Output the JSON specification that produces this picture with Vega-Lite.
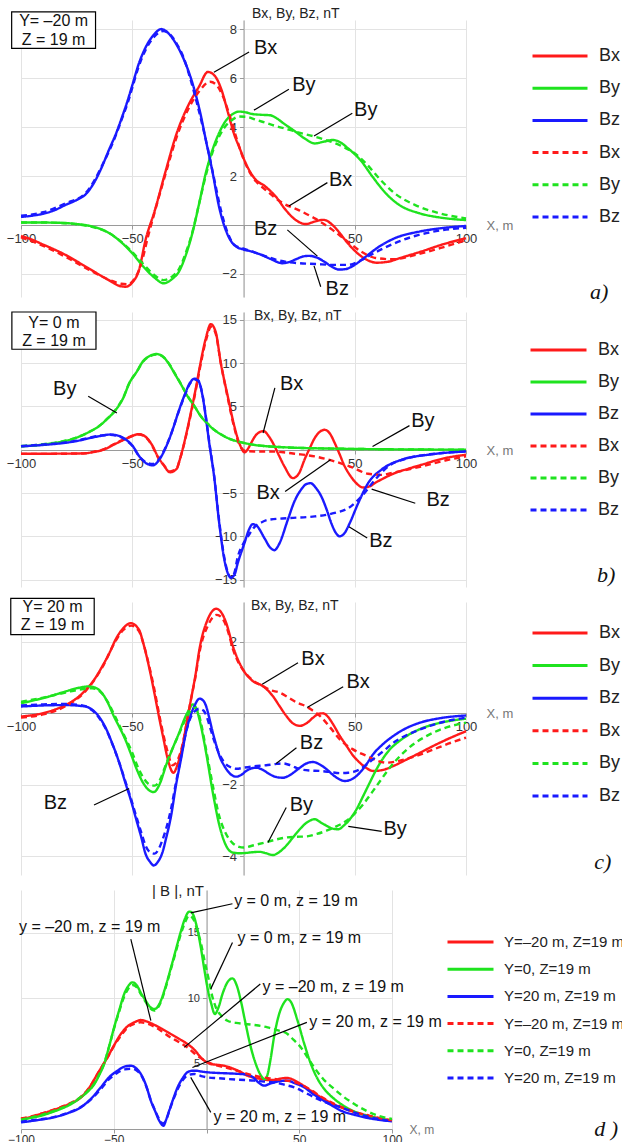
{
"$schema":"https://vega.github.io/schema/vega-lite/v6.json",
"padding":{"left":6,"top":6,"right":0,"bottom":0},
"background":"white",
"config":{"view":{"stroke":null},"font":"Liberation Sans",
 "axis":{"domainColor":"#9a9a9a","tickColor":"#9a9a9a","labelColor":"#333","labelFont":"Liberation Sans","labelFontSize":13,"gridColor":"#e3e3e3","titleFont":"Liberation Sans","titleFontWeight":"normal","titleColor":"#222","labelPadding":3,"labelOverlap":false,"labelFlush":false,"domainWidth":1,"tickSize":4}},
"datasets":{
"a":[
{"k":"Bx|s","x":-100,"y":-0.45},{"k":"Bx|s","x":-95,"y":-0.6},{"k":"Bx|s","x":-90,"y":-0.8},{"k":"Bx|s","x":-85,"y":-1.0},{"k":"Bx|s","x":-80,"y":-1.22},{"k":"Bx|s","x":-75,"y":-1.48},{"k":"Bx|s","x":-70,"y":-1.75},{"k":"Bx|s","x":-65,"y":-2.02},{"k":"Bx|s","x":-60,"y":-2.28},{"k":"Bx|s","x":-56,"y":-2.48},{"k":"Bx|s","x":-53,"y":-2.52},{"k":"Bx|s","x":-50,"y":-2.35},{"k":"Bx|s","x":-47,"y":-1.85},{"k":"Bx|s","x":-44,"y":-0.6},{"k":"Bx|s","x":-40,"y":0.55},{"k":"Bx|s","x":-35,"y":2.2},{"k":"Bx|s","x":-30,"y":3.75},{"k":"Bx|s","x":-25,"y":4.85},{"k":"Bx|s","x":-20,"y":5.65},{"k":"Bx|s","x":-16,"y":6.25},{"k":"Bx|s","x":-13,"y":6.1},{"k":"Bx|s","x":-10,"y":5.55},{"k":"Bx|s","x":-7,"y":4.6},{"k":"Bx|s","x":-4,"y":3.65},{"k":"Bx|s","x":-2,"y":3.2},{"k":"Bx|s","x":1,"y":2.52},{"k":"Bx|s","x":5,"y":1.9},{"k":"Bx|s","x":10,"y":1.56},{"k":"Bx|s","x":14.5,"y":1.16},{"k":"Bx|s","x":19,"y":0.61},{"k":"Bx|s","x":23.5,"y":0.2},{"k":"Bx|s","x":28,"y":0.04},{"k":"Bx|s","x":32,"y":0.14},{"k":"Bx|s","x":36,"y":0.21},{"k":"Bx|s","x":40,"y":0.0},{"k":"Bx|s","x":43,"y":-0.3},{"k":"Bx|s","x":46,"y":-0.65},{"k":"Bx|s","x":50,"y":-1.05},{"k":"Bx|s","x":55,"y":-1.4},{"k":"Bx|s","x":60,"y":-1.54},{"k":"Bx|s","x":65,"y":-1.5},{"k":"Bx|s","x":70,"y":-1.36},{"k":"Bx|s","x":80,"y":-1.08},{"k":"Bx|s","x":90,"y":-0.78},{"k":"Bx|s","x":100,"y":-0.54},
{"k":"By|s","x":-100,"y":0.1},{"k":"By|s","x":-90,"y":0.1},{"k":"By|s","x":-80,"y":0.08},{"k":"By|s","x":-75,"y":0.04},{"k":"By|s","x":-70,"y":-0.02},{"k":"By|s","x":-65,"y":-0.14},{"k":"By|s","x":-60,"y":-0.35},{"k":"By|s","x":-55,"y":-0.7},{"k":"By|s","x":-50,"y":-1.15},{"k":"By|s","x":-45,"y":-1.7},{"k":"By|s","x":-40,"y":-2.15},{"k":"By|s","x":-36,"y":-2.38},{"k":"By|s","x":-32,"y":-2.2},{"k":"By|s","x":-29,"y":-1.9},{"k":"By|s","x":-26,"y":-1.25},{"k":"By|s","x":-23,"y":-0.34},{"k":"By|s","x":-20,"y":0.85},{"k":"By|s","x":-17,"y":2.1},{"k":"By|s","x":-14,"y":3.05},{"k":"By|s","x":-11,"y":3.75},{"k":"By|s","x":-8,"y":4.25},{"k":"By|s","x":-5,"y":4.52},{"k":"By|s","x":-2,"y":4.63},{"k":"By|s","x":1,"y":4.6},{"k":"By|s","x":4,"y":4.53},{"k":"By|s","x":8,"y":4.5},{"k":"By|s","x":12,"y":4.48},{"k":"By|s","x":15,"y":4.35},{"k":"By|s","x":18,"y":4.15},{"k":"By|s","x":23.5,"y":3.8},{"k":"By|s","x":28,"y":3.5},{"k":"By|s","x":32,"y":3.33},{"k":"By|s","x":36,"y":3.4},{"k":"By|s","x":40,"y":3.47},{"k":"By|s","x":43,"y":3.4},{"k":"By|s","x":47,"y":3.13},{"k":"By|s","x":53,"y":2.6},{"k":"By|s","x":58,"y":1.97},{"k":"By|s","x":64,"y":1.29},{"k":"By|s","x":70,"y":0.82},{"k":"By|s","x":79,"y":0.48},{"k":"By|s","x":88,"y":0.31},{"k":"By|s","x":100,"y":0.2},
{"k":"Bz|s","x":-100,"y":0.33},{"k":"Bz|s","x":-95,"y":0.38},{"k":"Bz|s","x":-90,"y":0.46},{"k":"Bz|s","x":-85,"y":0.6},{"k":"Bz|s","x":-80,"y":0.82},{"k":"Bz|s","x":-75,"y":1.02},{"k":"Bz|s","x":-71,"y":1.25},{"k":"Bz|s","x":-67,"y":1.75},{"k":"Bz|s","x":-64,"y":2.3},{"k":"Bz|s","x":-60.5,"y":3.06},{"k":"Bz|s","x":-57,"y":3.8},{"k":"Bz|s","x":-55,"y":4.3},{"k":"Bz|s","x":-52,"y":5.1},{"k":"Bz|s","x":-50,"y":5.7},{"k":"Bz|s","x":-47,"y":6.6},{"k":"Bz|s","x":-44,"y":7.25},{"k":"Bz|s","x":-40,"y":7.8},{"k":"Bz|s","x":-37,"y":8.0},{"k":"Bz|s","x":-34,"y":7.85},{"k":"Bz|s","x":-31,"y":7.5},{"k":"Bz|s","x":-28,"y":7.0},{"k":"Bz|s","x":-25,"y":6.35},{"k":"Bz|s","x":-22,"y":5.5},{"k":"Bz|s","x":-19,"y":4.4},{"k":"Bz|s","x":-17,"y":3.5},{"k":"Bz|s","x":-14,"y":2.2},{"k":"Bz|s","x":-11,"y":0.75},{"k":"Bz|s","x":-8,"y":-0.2},{"k":"Bz|s","x":-6,"y":-0.6},{"k":"Bz|s","x":-3,"y":-0.9},{"k":"Bz|s","x":0,"y":-1.0},{"k":"Bz|s","x":4,"y":-1.09},{"k":"Bz|s","x":8,"y":-1.22},{"k":"Bz|s","x":12,"y":-1.38},{"k":"Bz|s","x":17.5,"y":-1.56},{"k":"Bz|s","x":21,"y":-1.5},{"k":"Bz|s","x":24,"y":-1.38},{"k":"Bz|s","x":27,"y":-1.28},{"k":"Bz|s","x":29.5,"y":-1.26},{"k":"Bz|s","x":33,"y":-1.33},{"k":"Bz|s","x":36,"y":-1.48},{"k":"Bz|s","x":40,"y":-1.72},{"k":"Bz|s","x":43,"y":-1.82},{"k":"Bz|s","x":46,"y":-1.8},{"k":"Bz|s","x":49,"y":-1.68},{"k":"Bz|s","x":52,"y":-1.5},{"k":"Bz|s","x":55,"y":-1.29},{"k":"Bz|s","x":61,"y":-0.88},{"k":"Bz|s","x":68,"y":-0.54},{"k":"Bz|s","x":79,"y":-0.27},{"k":"Bz|s","x":88,"y":-0.14},{"k":"Bz|s","x":100,"y":-0.04},
{"k":"Bx|d","x":-100,"y":-0.5},{"k":"Bx|d","x":-90,"y":-0.85},{"k":"Bx|d","x":-80,"y":-1.3},{"k":"Bx|d","x":-70,"y":-1.8},{"k":"Bx|d","x":-60,"y":-2.25},{"k":"Bx|d","x":-55,"y":-2.4},{"k":"Bx|d","x":-52,"y":-2.42},{"k":"Bx|d","x":-49,"y":-2.2},{"k":"Bx|d","x":-46,"y":-1.6},{"k":"Bx|d","x":-43,"y":-0.5},{"k":"Bx|d","x":-40,"y":0.5},{"k":"Bx|d","x":-35,"y":2.1},{"k":"Bx|d","x":-30,"y":3.6},{"k":"Bx|d","x":-25,"y":4.7},{"k":"Bx|d","x":-20,"y":5.45},{"k":"Bx|d","x":-15,"y":5.85},{"k":"Bx|d","x":-12,"y":5.7},{"k":"Bx|d","x":-9,"y":5.2},{"k":"Bx|d","x":-6,"y":4.4},{"k":"Bx|d","x":-3,"y":3.5},{"k":"Bx|d","x":0,"y":2.7},{"k":"Bx|d","x":2.5,"y":2.2},{"k":"Bx|d","x":5,"y":1.85},{"k":"Bx|d","x":10,"y":1.43},{"k":"Bx|d","x":17.5,"y":0.9},{"k":"Bx|d","x":25,"y":0.6},{"k":"Bx|d","x":32,"y":0.27},{"k":"Bx|d","x":40,"y":-0.2},{"k":"Bx|d","x":46,"y":-0.62},{"k":"Bx|d","x":53,"y":-1.09},{"k":"Bx|d","x":59,"y":-1.34},{"k":"Bx|d","x":67,"y":-1.4},{"k":"Bx|d","x":79,"y":-1.18},{"k":"Bx|d","x":90,"y":-0.9},{"k":"Bx|d","x":100,"y":-0.62},
{"k":"By|d","x":-100,"y":0.1},{"k":"By|d","x":-90,"y":0.1},{"k":"By|d","x":-80,"y":0.07},{"k":"By|d","x":-70,"y":-0.04},{"k":"By|d","x":-60,"y":-0.35},{"k":"By|d","x":-55,"y":-0.68},{"k":"By|d","x":-50,"y":-1.1},{"k":"By|d","x":-45,"y":-1.6},{"k":"By|d","x":-40,"y":-2.05},{"k":"By|d","x":-36,"y":-2.25},{"k":"By|d","x":-32,"y":-2.1},{"k":"By|d","x":-29,"y":-1.8},{"k":"By|d","x":-26,"y":-1.15},{"k":"By|d","x":-23,"y":-0.3},{"k":"By|d","x":-20,"y":0.85},{"k":"By|d","x":-17,"y":2.0},{"k":"By|d","x":-14,"y":2.95},{"k":"By|d","x":-11,"y":3.6},{"k":"By|d","x":-8,"y":4.05},{"k":"By|d","x":-5,"y":4.3},{"k":"By|d","x":-2,"y":4.43},{"k":"By|d","x":1,"y":4.42},{"k":"By|d","x":5.5,"y":4.3},{"k":"By|d","x":10,"y":4.17},{"k":"By|d","x":14.5,"y":4.04},{"k":"By|d","x":19,"y":3.93},{"k":"By|d","x":23.5,"y":3.81},{"k":"By|d","x":28,"y":3.7},{"k":"By|d","x":32.4,"y":3.6},{"k":"By|d","x":37,"y":3.47},{"k":"By|d","x":41.4,"y":3.33},{"k":"By|d","x":45,"y":3.18},{"k":"By|d","x":49,"y":2.99},{"k":"By|d","x":55,"y":2.52},{"k":"By|d","x":61,"y":1.9},{"k":"By|d","x":68,"y":1.29},{"k":"By|d","x":77,"y":0.82},{"k":"By|d","x":88,"y":0.48},{"k":"By|d","x":100,"y":0.27},
{"k":"Bz|d","x":-100,"y":0.38},{"k":"Bz|d","x":-90,"y":0.52},{"k":"Bz|d","x":-80,"y":0.88},{"k":"Bz|d","x":-71,"y":1.3},{"k":"Bz|d","x":-67,"y":1.82},{"k":"Bz|d","x":-64,"y":2.35},{"k":"Bz|d","x":-60.5,"y":3.0},{"k":"Bz|d","x":-57,"y":3.75},{"k":"Bz|d","x":-55,"y":4.25},{"k":"Bz|d","x":-52,"y":5.0},{"k":"Bz|d","x":-50,"y":5.6},{"k":"Bz|d","x":-47,"y":6.5},{"k":"Bz|d","x":-44,"y":7.15},{"k":"Bz|d","x":-40,"y":7.7},{"k":"Bz|d","x":-36,"y":7.92},{"k":"Bz|d","x":-33,"y":7.78},{"k":"Bz|d","x":-30,"y":7.4},{"k":"Bz|d","x":-27,"y":6.85},{"k":"Bz|d","x":-24,"y":6.0},{"k":"Bz|d","x":-21,"y":5.0},{"k":"Bz|d","x":-18,"y":3.9},{"k":"Bz|d","x":-16,"y":3.1},{"k":"Bz|d","x":-13,"y":1.8},{"k":"Bz|d","x":-10,"y":0.55},{"k":"Bz|d","x":-7,"y":-0.35},{"k":"Bz|d","x":-4,"y":-0.82},{"k":"Bz|d","x":0,"y":-0.96},{"k":"Bz|d","x":7,"y":-1.18},{"k":"Bz|d","x":16,"y":-1.45},{"k":"Bz|d","x":25,"y":-1.56},{"k":"Bz|d","x":32.4,"y":-1.59},{"k":"Bz|d","x":40,"y":-1.63},{"k":"Bz|d","x":47,"y":-1.63},{"k":"Bz|d","x":53,"y":-1.43},{"k":"Bz|d","x":59,"y":-1.13},{"k":"Bz|d","x":67,"y":-0.78},{"k":"Bz|d","x":77,"y":-0.45},{"k":"Bz|d","x":88,"y":-0.23},{"k":"Bz|d","x":100,"y":-0.11}
],
"b":[
{"k":"Bx|s","x":-100,"y":-0.46},{"k":"Bx|s","x":-90,"y":-0.46},{"k":"Bx|s","x":-80,"y":-0.45},{"k":"Bx|s","x":-72,"y":-0.42},{"k":"Bx|s","x":-67,"y":-0.25},{"k":"Bx|s","x":-63,"y":0.0},{"k":"Bx|s","x":-57.4,"y":0.7},{"k":"Bx|s","x":-52,"y":1.35},{"k":"Bx|s","x":-47,"y":1.8},{"k":"Bx|s","x":-44,"y":1.5},{"k":"Bx|s","x":-41,"y":0.5},{"k":"Bx|s","x":-38.5,"y":-0.8},{"k":"Bx|s","x":-36,"y":-1.75},{"k":"Bx|s","x":-33,"y":-2.6},{"k":"Bx|s","x":-30,"y":-2.2},{"k":"Bx|s","x":-28.7,"y":-1.2},{"k":"Bx|s","x":-26,"y":1.5},{"k":"Bx|s","x":-24,"y":3.86},{"k":"Bx|s","x":-21.5,"y":7.0},{"k":"Bx|s","x":-19.6,"y":9.65},{"k":"Bx|s","x":-17,"y":12.8},{"k":"Bx|s","x":-14.7,"y":14.5},{"k":"Bx|s","x":-12.5,"y":13.6},{"k":"Bx|s","x":-10.2,"y":10.0},{"k":"Bx|s","x":-7.1,"y":6.2},{"k":"Bx|s","x":-4.1,"y":2.7},{"k":"Bx|s","x":-1.5,"y":0.5},{"k":"Bx|s","x":0.5,"y":-0.3},{"k":"Bx|s","x":2,"y":0.1},{"k":"Bx|s","x":3.4,"y":0.77},{"k":"Bx|s","x":6,"y":1.8},{"k":"Bx|s","x":9,"y":2.15},{"k":"Bx|s","x":11.5,"y":1.5},{"k":"Bx|s","x":14,"y":0.39},{"k":"Bx|s","x":16,"y":-0.7},{"k":"Bx|s","x":18.4,"y":-1.93},{"k":"Bx|s","x":22.2,"y":-3.28},{"k":"Bx|s","x":25,"y":-2.7},{"k":"Bx|s","x":27.4,"y":-1.16},{"k":"Bx|s","x":30,"y":0.3},{"k":"Bx|s","x":32,"y":1.35},{"k":"Bx|s","x":36.5,"y":2.3},{"k":"Bx|s","x":39,"y":1.8},{"k":"Bx|s","x":41,"y":0.77},{"k":"Bx|s","x":43,"y":-0.4},{"k":"Bx|s","x":45.5,"y":-1.93},{"k":"Bx|s","x":48,"y":-3.0},{"k":"Bx|s","x":50,"y":-3.67},{"k":"Bx|s","x":53.8,"y":-4.36},{"k":"Bx|s","x":57,"y":-4.2},{"k":"Bx|s","x":59,"y":-3.86},{"k":"Bx|s","x":63,"y":-3.3},{"k":"Bx|s","x":68,"y":-2.7},{"k":"Bx|s","x":74,"y":-2.2},{"k":"Bx|s","x":80,"y":-1.74},{"k":"Bx|s","x":90,"y":-1.0},{"k":"Bx|s","x":100,"y":-0.58},
{"k":"By|s","x":-100,"y":0.39},{"k":"By|s","x":-90,"y":0.6},{"k":"By|s","x":-81,"y":0.97},{"k":"By|s","x":-75,"y":1.4},{"k":"By|s","x":-69,"y":2.1},{"k":"By|s","x":-65,"y":2.7},{"k":"By|s","x":-61.6,"y":3.47},{"k":"By|s","x":-57.4,"y":4.6},{"k":"By|s","x":-54,"y":6.0},{"k":"By|s","x":-51.3,"y":7.7},{"k":"By|s","x":-48,"y":9.0},{"k":"By|s","x":-45.2,"y":10.2},{"k":"By|s","x":-42,"y":10.85},{"k":"By|s","x":-39,"y":11.05},{"k":"By|s","x":-36,"y":10.7},{"k":"By|s","x":-33,"y":9.7},{"k":"By|s","x":-31.2,"y":8.9},{"k":"By|s","x":-28,"y":7.5},{"k":"By|s","x":-25.2,"y":6.2},{"k":"By|s","x":-22,"y":5.0},{"k":"By|s","x":-19.2,"y":3.86},{"k":"By|s","x":-16,"y":2.95},{"k":"By|s","x":-13.2,"y":2.3},{"k":"By|s","x":-10,"y":1.75},{"k":"By|s","x":-7.1,"y":1.35},{"k":"By|s","x":-3,"y":0.98},{"k":"By|s","x":0.4,"y":0.77},{"k":"By|s","x":5,"y":0.55},{"k":"By|s","x":10.9,"y":0.39},{"k":"By|s","x":17,"y":0.3},{"k":"By|s","x":23,"y":0.23},{"k":"By|s","x":35,"y":0.15},{"k":"By|s","x":53,"y":0.08},{"k":"By|s","x":75,"y":0.03},{"k":"By|s","x":100,"y":0.0},
{"k":"Bz|s","x":-100,"y":0.39},{"k":"Bz|s","x":-90,"y":0.55},{"k":"Bz|s","x":-81,"y":0.77},{"k":"Bz|s","x":-75,"y":1.0},{"k":"Bz|s","x":-69,"y":1.35},{"k":"Bz|s","x":-64,"y":1.6},{"k":"Bz|s","x":-60,"y":1.75},{"k":"Bz|s","x":-56,"y":1.6},{"k":"Bz|s","x":-52.8,"y":1.16},{"k":"Bz|s","x":-50,"y":0.5},{"k":"Bz|s","x":-46.8,"y":-0.77},{"k":"Bz|s","x":-43.5,"y":-1.6},{"k":"Bz|s","x":-40.7,"y":-1.8},{"k":"Bz|s","x":-38,"y":-1.2},{"k":"Bz|s","x":-34.7,"y":0.39},{"k":"Bz|s","x":-32,"y":2.2},{"k":"Bz|s","x":-29.4,"y":4.25},{"k":"Bz|s","x":-26.5,"y":6.3},{"k":"Bz|s","x":-24.1,"y":7.7},{"k":"Bz|s","x":-22,"y":8.2},{"k":"Bz|s","x":-20.5,"y":8.05},{"k":"Bz|s","x":-18.4,"y":6.2},{"k":"Bz|s","x":-16.8,"y":3.5},{"k":"Bz|s","x":-15.4,"y":0.77},{"k":"Bz|s","x":-13.2,"y":-3.1},{"k":"Bz|s","x":-10.9,"y":-8.5},{"k":"Bz|s","x":-8.6,"y":-12.7},{"k":"Bz|s","x":-7,"y":-14.3},{"k":"Bz|s","x":-5.6,"y":-14.75},{"k":"Bz|s","x":-4,"y":-14.4},{"k":"Bz|s","x":-2.6,"y":-13.1},{"k":"Bz|s","x":0.4,"y":-10.8},{"k":"Bz|s","x":2.5,"y":-9.2},{"k":"Bz|s","x":4.1,"y":-8.6},{"k":"Bz|s","x":6,"y":-8.8},{"k":"Bz|s","x":9.4,"y":-10.2},{"k":"Bz|s","x":12,"y":-11.3},{"k":"Bz|s","x":13.9,"y":-11.6},{"k":"Bz|s","x":16,"y":-10.9},{"k":"Bz|s","x":19.9,"y":-8.1},{"k":"Bz|s","x":23,"y":-5.9},{"k":"Bz|s","x":25.9,"y":-4.6},{"k":"Bz|s","x":28,"y":-4.0},{"k":"Bz|s","x":30.1,"y":-3.86},{"k":"Bz|s","x":32.5,"y":-4.4},{"k":"Bz|s","x":35,"y":-5.4},{"k":"Bz|s","x":37.5,"y":-7.0},{"k":"Bz|s","x":39.5,"y":-8.5},{"k":"Bz|s","x":41.5,"y":-9.6},{"k":"Bz|s","x":43.2,"y":-10.0},{"k":"Bz|s","x":45.5,"y":-9.6},{"k":"Bz|s","x":47.7,"y":-8.5},{"k":"Bz|s","x":51.5,"y":-6.2},{"k":"Bz|s","x":56,"y":-3.86},{"k":"Bz|s","x":62,"y":-2.3},{"k":"Bz|s","x":71,"y":-1.16},{"k":"Bz|s","x":83,"y":-0.58},{"k":"Bz|s","x":100,"y":-0.2},
{"k":"Bx|d","x":-100,"y":-0.48},{"k":"Bx|d","x":-90,"y":-0.48},{"k":"Bx|d","x":-80,"y":-0.46},{"k":"Bx|d","x":-72,"y":-0.43},{"k":"Bx|d","x":-67,"y":-0.22},{"k":"Bx|d","x":-63,"y":0.05},{"k":"Bx|d","x":-57.4,"y":0.75},{"k":"Bx|d","x":-52,"y":1.4},{"k":"Bx|d","x":-47,"y":1.75},{"k":"Bx|d","x":-44,"y":1.45},{"k":"Bx|d","x":-41,"y":0.45},{"k":"Bx|d","x":-38.5,"y":-0.85},{"k":"Bx|d","x":-36,"y":-1.7},{"k":"Bx|d","x":-33,"y":-2.5},{"k":"Bx|d","x":-30,"y":-2.15},{"k":"Bx|d","x":-28.7,"y":-1.2},{"k":"Bx|d","x":-26,"y":1.4},{"k":"Bx|d","x":-24,"y":3.7},{"k":"Bx|d","x":-21.5,"y":6.8},{"k":"Bx|d","x":-19.6,"y":9.4},{"k":"Bx|d","x":-17,"y":12.5},{"k":"Bx|d","x":-14.5,"y":14.2},{"k":"Bx|d","x":-12.5,"y":13.4},{"k":"Bx|d","x":-10.2,"y":10.0},{"k":"Bx|d","x":-7.1,"y":6.0},{"k":"Bx|d","x":-4.1,"y":2.5},{"k":"Bx|d","x":-1.5,"y":0.4},{"k":"Bx|d","x":1,"y":-0.15},{"k":"Bx|d","x":5,"y":-0.2},{"k":"Bx|d","x":12,"y":-0.2},{"k":"Bx|d","x":18,"y":-0.3},{"k":"Bx|d","x":23,"y":-0.46},{"k":"Bx|d","x":32,"y":-0.77},{"k":"Bx|d","x":41,"y":-1.35},{"k":"Bx|d","x":48.5,"y":-2.0},{"k":"Bx|d","x":56,"y":-2.78},{"k":"Bx|d","x":62,"y":-2.9},{"k":"Bx|d","x":68,"y":-2.6},{"k":"Bx|d","x":80,"y":-1.93},{"k":"Bx|d","x":90.6,"y":-1.24},{"k":"Bx|d","x":100,"y":-0.77},
{"k":"By|d","x":-100,"y":0.42},{"k":"By|d","x":-90,"y":0.63},{"k":"By|d","x":-81,"y":1.0},{"k":"By|d","x":-75,"y":1.42},{"k":"By|d","x":-69,"y":2.1},{"k":"By|d","x":-65,"y":2.72},{"k":"By|d","x":-61.6,"y":3.5},{"k":"By|d","x":-57.4,"y":4.65},{"k":"By|d","x":-54,"y":6.05},{"k":"By|d","x":-51.3,"y":7.7},{"k":"By|d","x":-48,"y":9.0},{"k":"By|d","x":-45.2,"y":10.15},{"k":"By|d","x":-42,"y":10.8},{"k":"By|d","x":-39,"y":11.0},{"k":"By|d","x":-36,"y":10.7},{"k":"By|d","x":-33,"y":9.75},{"k":"By|d","x":-31.2,"y":8.95},{"k":"By|d","x":-28,"y":7.55},{"k":"By|d","x":-25.2,"y":6.25},{"k":"By|d","x":-22,"y":5.0},{"k":"By|d","x":-19.2,"y":3.9},{"k":"By|d","x":-16,"y":3.0},{"k":"By|d","x":-13.2,"y":2.3},{"k":"By|d","x":-10,"y":1.75},{"k":"By|d","x":-7.1,"y":1.35},{"k":"By|d","x":-3,"y":0.98},{"k":"By|d","x":0.4,"y":0.77},{"k":"By|d","x":5,"y":0.55},{"k":"By|d","x":10.9,"y":0.4},{"k":"By|d","x":17,"y":0.3},{"k":"By|d","x":23,"y":0.23},{"k":"By|d","x":35,"y":0.15},{"k":"By|d","x":53,"y":0.08},{"k":"By|d","x":75,"y":0.03},{"k":"By|d","x":100,"y":0.0},
{"k":"Bz|d","x":-100,"y":0.42},{"k":"Bz|d","x":-90,"y":0.6},{"k":"Bz|d","x":-81,"y":0.82},{"k":"Bz|d","x":-75,"y":1.05},{"k":"Bz|d","x":-69,"y":1.4},{"k":"Bz|d","x":-64,"y":1.65},{"k":"Bz|d","x":-60,"y":1.72},{"k":"Bz|d","x":-56,"y":1.55},{"k":"Bz|d","x":-52.8,"y":1.1},{"k":"Bz|d","x":-50,"y":0.45},{"k":"Bz|d","x":-46.8,"y":-0.8},{"k":"Bz|d","x":-43.5,"y":-1.5},{"k":"Bz|d","x":-40.7,"y":-1.65},{"k":"Bz|d","x":-38,"y":-1.1},{"k":"Bz|d","x":-34.7,"y":0.45},{"k":"Bz|d","x":-32,"y":2.2},{"k":"Bz|d","x":-29.4,"y":4.2},{"k":"Bz|d","x":-26.5,"y":6.2},{"k":"Bz|d","x":-24.1,"y":7.6},{"k":"Bz|d","x":-22,"y":8.1},{"k":"Bz|d","x":-20.5,"y":8.0},{"k":"Bz|d","x":-18.4,"y":6.3},{"k":"Bz|d","x":-16.8,"y":3.6},{"k":"Bz|d","x":-15.4,"y":0.9},{"k":"Bz|d","x":-13.2,"y":-3.0},{"k":"Bz|d","x":-10.9,"y":-8.3},{"k":"Bz|d","x":-8.6,"y":-12.5},{"k":"Bz|d","x":-7,"y":-14.2},{"k":"Bz|d","x":-5.8,"y":-14.8},{"k":"Bz|d","x":-4.2,"y":-14.3},{"k":"Bz|d","x":-2.6,"y":-12.4},{"k":"Bz|d","x":0,"y":-10.8},{"k":"Bz|d","x":2,"y":-10.0},{"k":"Bz|d","x":5,"y":-8.9},{"k":"Bz|d","x":8,"y":-8.4},{"k":"Bz|d","x":11,"y":-8.1},{"k":"Bz|d","x":20,"y":-7.9},{"k":"Bz|d","x":32,"y":-7.7},{"k":"Bz|d","x":41,"y":-7.3},{"k":"Bz|d","x":47,"y":-6.76},{"k":"Bz|d","x":53,"y":-5.4},{"k":"Bz|d","x":59,"y":-3.5},{"k":"Bz|d","x":65,"y":-1.93},{"k":"Bz|d","x":74,"y":-0.97},{"k":"Bz|d","x":86,"y":-0.46},{"k":"Bz|d","x":100,"y":-0.2}
],
"c":[
{"k":"Bx|s","x":-100,"y":-0.09},{"k":"Bx|s","x":-90.4,"y":0.0},{"k":"Bx|s","x":-85,"y":0.1},{"k":"Bx|s","x":-80,"y":0.23},{"k":"Bx|s","x":-75,"y":0.42},{"k":"Bx|s","x":-71,"y":0.65},{"k":"Bx|s","x":-67,"y":0.95},{"k":"Bx|s","x":-63.5,"y":1.31},{"k":"Bx|s","x":-60,"y":1.72},{"k":"Bx|s","x":-57.5,"y":2.06},{"k":"Bx|s","x":-54,"y":2.38},{"k":"Bx|s","x":-50.7,"y":2.52},{"k":"Bx|s","x":-47,"y":2.34},{"k":"Bx|s","x":-45,"y":1.95},{"k":"Bx|s","x":-42.5,"y":1.31},{"k":"Bx|s","x":-40,"y":0.55},{"k":"Bx|s","x":-38,"y":-0.09},{"k":"Bx|s","x":-36,"y":-0.7},{"k":"Bx|s","x":-34.3,"y":-1.21},{"k":"Bx|s","x":-31.5,"y":-1.66},{"k":"Bx|s","x":-29.5,"y":-1.4},{"k":"Bx|s","x":-27.4,"y":-0.91},{"k":"Bx|s","x":-25.5,"y":-0.25},{"k":"Bx|s","x":-23.6,"y":0.39},{"k":"Bx|s","x":-21.5,"y":1.1},{"k":"Bx|s","x":-19.8,"y":1.79},{"k":"Bx|s","x":-16.1,"y":2.62},{"k":"Bx|s","x":-12.3,"y":2.92},{"k":"Bx|s","x":-10,"y":2.82},{"k":"Bx|s","x":-7.8,"y":2.53},{"k":"Bx|s","x":-4.8,"y":1.88},{"k":"Bx|s","x":-2.5,"y":1.5},{"k":"Bx|s","x":-0.3,"y":1.23},{"k":"Bx|s","x":4.2,"y":0.9},{"k":"Bx|s","x":8.7,"y":0.76},{"k":"Bx|s","x":13.2,"y":0.48},{"k":"Bx|s","x":16,"y":0.22},{"k":"Bx|s","x":19.2,"y":-0.07},{"k":"Bx|s","x":22,"y":-0.27},{"k":"Bx|s","x":25.3,"y":-0.35},{"k":"Bx|s","x":28.5,"y":-0.27},{"k":"Bx|s","x":31.3,"y":-0.12},{"k":"Bx|s","x":34,"y":-0.01},{"k":"Bx|s","x":35.8,"y":0.0},{"k":"Bx|s","x":38,"y":-0.1},{"k":"Bx|s","x":40.3,"y":-0.31},{"k":"Bx|s","x":43,"y":-0.6},{"k":"Bx|s","x":46.3,"y":-0.91},{"k":"Bx|s","x":49.5,"y":-1.2},{"k":"Bx|s","x":52.3,"y":-1.38},{"k":"Bx|s","x":55,"y":-1.52},{"k":"Bx|s","x":58.3,"y":-1.61},{"k":"Bx|s","x":62,"y":-1.59},{"k":"Bx|s","x":67.4,"y":-1.47},{"k":"Bx|s","x":73,"y":-1.3},{"k":"Bx|s","x":79.4,"y":-1.1},{"k":"Bx|s","x":85,"y":-0.92},{"k":"Bx|s","x":91.4,"y":-0.73},{"k":"Bx|s","x":100,"y":-0.5},
{"k":"By|s","x":-100,"y":0.28},{"k":"By|s","x":-93,"y":0.38},{"k":"By|s","x":-87.4,"y":0.47},{"k":"By|s","x":-80,"y":0.61},{"k":"By|s","x":-75,"y":0.7},{"k":"By|s","x":-69.5,"y":0.75},{"k":"By|s","x":-66,"y":0.7},{"k":"By|s","x":-63.5,"y":0.56},{"k":"By|s","x":-61,"y":0.3},{"k":"By|s","x":-58.2,"y":-0.09},{"k":"By|s","x":-55.5,"y":-0.42},{"k":"By|s","x":-53,"y":-0.75},{"k":"By|s","x":-50.5,"y":-1.15},{"k":"By|s","x":-47.8,"y":-1.59},{"k":"By|s","x":-45.5,"y":-1.9},{"k":"By|s","x":-43.3,"y":-2.1},{"k":"By|s","x":-40.3,"y":-2.2},{"k":"By|s","x":-37.5,"y":-1.95},{"k":"By|s","x":-34.9,"y":-1.47},{"k":"By|s","x":-32,"y":-1.0},{"k":"By|s","x":-28.9,"y":-0.54},{"k":"By|s","x":-26.5,"y":-0.15},{"k":"By|s","x":-24.4,"y":0.11},{"k":"By|s","x":-22.9,"y":0.25},{"k":"By|s","x":-21.3,"y":0.15},{"k":"By|s","x":-19.8,"y":-0.17},{"k":"By|s","x":-18.3,"y":-0.6},{"k":"By|s","x":-16.8,"y":-1.1},{"k":"By|s","x":-13.8,"y":-2.21},{"k":"By|s","x":-10.8,"y":-3.14},{"k":"By|s","x":-7.8,"y":-3.7},{"k":"By|s","x":-4.8,"y":-3.89},{"k":"By|s","x":-1.8,"y":-3.91},{"k":"By|s","x":1.2,"y":-3.9},{"k":"By|s","x":4.2,"y":-3.88},{"k":"By|s","x":7.2,"y":-3.87},{"k":"By|s","x":10.2,"y":-3.91},{"k":"By|s","x":13.2,"y":-3.96},{"k":"By|s","x":16.2,"y":-3.87},{"k":"By|s","x":19.2,"y":-3.7},{"k":"By|s","x":22.2,"y":-3.47},{"k":"By|s","x":25.3,"y":-3.24},{"k":"By|s","x":28.5,"y":-3.05},{"k":"By|s","x":32,"y":-2.96},{"k":"By|s","x":35,"y":-3.06},{"k":"By|s","x":37.3,"y":-3.14},{"k":"By|s","x":40,"y":-3.22},{"k":"By|s","x":42.6,"y":-3.24},{"k":"By|s","x":45,"y":-3.14},{"k":"By|s","x":47.8,"y":-2.96},{"k":"By|s","x":50.8,"y":-2.68},{"k":"By|s","x":53.8,"y":-2.31},{"k":"By|s","x":56.8,"y":-1.93},{"k":"By|s","x":59.8,"y":-1.56},{"k":"By|s","x":62.8,"y":-1.25},{"k":"By|s","x":65.9,"y":-1.0},{"k":"By|s","x":69.5,"y":-0.8},{"k":"By|s","x":73.4,"y":-0.63},{"k":"By|s","x":79,"y":-0.45},{"k":"By|s","x":85.4,"y":-0.31},{"k":"By|s","x":92,"y":-0.22},{"k":"By|s","x":100,"y":-0.15},
{"k":"Bz|s","x":-100,"y":0.19},{"k":"Bz|s","x":-90,"y":0.22},{"k":"Bz|s","x":-80,"y":0.23},{"k":"Bz|s","x":-71,"y":0.19},{"k":"Bz|s","x":-68,"y":0.1},{"k":"Bz|s","x":-65,"y":-0.09},{"k":"Bz|s","x":-62,"y":-0.4},{"k":"Bz|s","x":-59,"y":-0.84},{"k":"Bz|s","x":-56,"y":-1.35},{"k":"Bz|s","x":-53,"y":-1.96},{"k":"Bz|s","x":-50.5,"y":-2.45},{"k":"Bz|s","x":-48.5,"y":-2.9},{"k":"Bz|s","x":-46,"y":-3.45},{"k":"Bz|s","x":-44,"y":-3.93},{"k":"Bz|s","x":-42,"y":-4.15},{"k":"Bz|s","x":-40.3,"y":-4.25},{"k":"Bz|s","x":-38.5,"y":-4.15},{"k":"Bz|s","x":-36.5,"y":-3.9},{"k":"Bz|s","x":-34.9,"y":-3.52},{"k":"Bz|s","x":-32.5,"y":-2.85},{"k":"Bz|s","x":-30.4,"y":-2.03},{"k":"Bz|s","x":-28,"y":-1.25},{"k":"Bz|s","x":-25.9,"y":-0.54},{"k":"Bz|s","x":-24,"y":-0.1},{"k":"Bz|s","x":-22.1,"y":0.2},{"k":"Bz|s","x":-19.8,"y":0.41},{"k":"Bz|s","x":-18,"y":0.35},{"k":"Bz|s","x":-16.8,"y":0.2},{"k":"Bz|s","x":-15.3,"y":-0.15},{"k":"Bz|s","x":-13.8,"y":-0.54},{"k":"Bz|s","x":-12.3,"y":-0.88},{"k":"Bz|s","x":-10.8,"y":-1.19},{"k":"Bz|s","x":-8.5,"y":-1.48},{"k":"Bz|s","x":-6.3,"y":-1.67},{"k":"Bz|s","x":-3.3,"y":-1.77},{"k":"Bz|s","x":-1,"y":-1.72},{"k":"Bz|s","x":1.2,"y":-1.61},{"k":"Bz|s","x":3.5,"y":-1.54},{"k":"Bz|s","x":5.7,"y":-1.52},{"k":"Bz|s","x":8.7,"y":-1.58},{"k":"Bz|s","x":11.7,"y":-1.7},{"k":"Bz|s","x":14.7,"y":-1.78},{"k":"Bz|s","x":17.7,"y":-1.8},{"k":"Bz|s","x":21,"y":-1.72},{"k":"Bz|s","x":25.3,"y":-1.52},{"k":"Bz|s","x":28.3,"y":-1.4},{"k":"Bz|s","x":31.3,"y":-1.36},{"k":"Bz|s","x":34.3,"y":-1.43},{"k":"Bz|s","x":37.3,"y":-1.56},{"k":"Bz|s","x":41,"y":-1.76},{"k":"Bz|s","x":45.6,"y":-1.89},{"k":"Bz|s","x":49,"y":-1.83},{"k":"Bz|s","x":52.3,"y":-1.66},{"k":"Bz|s","x":55.3,"y":-1.42},{"k":"Bz|s","x":58.3,"y":-1.14},{"k":"Bz|s","x":62,"y":-0.9},{"k":"Bz|s","x":67.4,"y":-0.63},{"k":"Bz|s","x":73,"y":-0.42},{"k":"Bz|s","x":79.4,"y":-0.26},{"k":"Bz|s","x":88,"y":-0.14},{"k":"Bz|s","x":100,"y":-0.06},
{"k":"Bx|d","x":-100,"y":-0.12},{"k":"Bx|d","x":-90,"y":-0.03},{"k":"Bx|d","x":-80,"y":0.2},{"k":"Bx|d","x":-71,"y":0.62},{"k":"Bx|d","x":-63.5,"y":1.28},{"k":"Bx|d","x":-57.5,"y":2.02},{"k":"Bx|d","x":-54,"y":2.33},{"k":"Bx|d","x":-50.5,"y":2.45},{"k":"Bx|d","x":-47,"y":2.3},{"k":"Bx|d","x":-45,"y":1.95},{"k":"Bx|d","x":-42.5,"y":1.35},{"k":"Bx|d","x":-40,"y":0.65},{"k":"Bx|d","x":-38,"y":0.0},{"k":"Bx|d","x":-36,"y":-0.6},{"k":"Bx|d","x":-34,"y":-1.1},{"k":"Bx|d","x":-32,"y":-1.45},{"k":"Bx|d","x":-30,"y":-1.35},{"k":"Bx|d","x":-27.5,"y":-0.9},{"k":"Bx|d","x":-25.5,"y":-0.25},{"k":"Bx|d","x":-23.6,"y":0.39},{"k":"Bx|d","x":-21.5,"y":1.05},{"k":"Bx|d","x":-19.8,"y":1.7},{"k":"Bx|d","x":-16,"y":2.45},{"k":"Bx|d","x":-12,"y":2.75},{"k":"Bx|d","x":-9.5,"y":2.65},{"k":"Bx|d","x":-7,"y":2.3},{"k":"Bx|d","x":-4.8,"y":1.8},{"k":"Bx|d","x":-2.5,"y":1.45},{"k":"Bx|d","x":0,"y":1.2},{"k":"Bx|d","x":4.2,"y":0.92},{"k":"Bx|d","x":8.7,"y":0.76},{"k":"Bx|d","x":12,"y":0.65},{"k":"Bx|d","x":16.2,"y":0.58},{"k":"Bx|d","x":20,"y":0.45},{"k":"Bx|d","x":24,"y":0.3},{"k":"Bx|d","x":28.3,"y":0.19},{"k":"Bx|d","x":31,"y":0.08},{"k":"Bx|d","x":34.3,"y":-0.07},{"k":"Bx|d","x":39,"y":-0.4},{"k":"Bx|d","x":43.3,"y":-0.73},{"k":"Bx|d","x":49,"y":-1.0},{"k":"Bx|d","x":55.3,"y":-1.19},{"k":"Bx|d","x":60,"y":-1.32},{"k":"Bx|d","x":64.4,"y":-1.38},{"k":"Bx|d","x":69,"y":-1.34},{"k":"Bx|d","x":73.4,"y":-1.27},{"k":"Bx|d","x":80,"y":-1.14},{"k":"Bx|d","x":85.4,"y":-1.01},{"k":"Bx|d","x":92,"y":-0.85},{"k":"Bx|d","x":100,"y":-0.68},
{"k":"By|d","x":-100,"y":0.32},{"k":"By|d","x":-90,"y":0.44},{"k":"By|d","x":-80,"y":0.58},{"k":"By|d","x":-72,"y":0.68},{"k":"By|d","x":-68,"y":0.7},{"k":"By|d","x":-64,"y":0.58},{"k":"By|d","x":-61,"y":0.32},{"k":"By|d","x":-58,"y":-0.05},{"k":"By|d","x":-53,"y":-0.7},{"k":"By|d","x":-50,"y":-1.1},{"k":"By|d","x":-47.5,"y":-1.5},{"k":"By|d","x":-45,"y":-1.8},{"k":"By|d","x":-42.5,"y":-1.98},{"k":"By|d","x":-40,"y":-2.02},{"k":"By|d","x":-37.5,"y":-1.85},{"k":"By|d","x":-35,"y":-1.45},{"k":"By|d","x":-32,"y":-1.0},{"k":"By|d","x":-29,"y":-0.58},{"k":"By|d","x":-26.5,"y":-0.22},{"k":"By|d","x":-24,"y":0.05},{"k":"By|d","x":-22,"y":0.15},{"k":"By|d","x":-20.5,"y":0.05},{"k":"By|d","x":-19,"y":-0.3},{"k":"By|d","x":-17,"y":-0.95},{"k":"By|d","x":-14,"y":-1.95},{"k":"By|d","x":-11,"y":-2.85},{"k":"By|d","x":-8,"y":-3.35},{"k":"By|d","x":-5,"y":-3.62},{"k":"By|d","x":-2,"y":-3.73},{"k":"By|d","x":0,"y":-3.75},{"k":"By|d","x":5,"y":-3.68},{"k":"By|d","x":10.2,"y":-3.6},{"k":"By|d","x":15,"y":-3.52},{"k":"By|d","x":19.2,"y":-3.47},{"k":"By|d","x":24,"y":-3.45},{"k":"By|d","x":28.3,"y":-3.44},{"k":"By|d","x":33,"y":-3.37},{"k":"By|d","x":37.3,"y":-3.28},{"k":"By|d","x":42,"y":-3.15},{"k":"By|d","x":46.3,"y":-3.0},{"k":"By|d","x":50,"y":-2.8},{"k":"By|d","x":53.8,"y":-2.54},{"k":"By|d","x":57.5,"y":-2.23},{"k":"By|d","x":61.4,"y":-1.89},{"k":"By|d","x":66,"y":-1.5},{"k":"By|d","x":70.4,"y":-1.19},{"k":"By|d","x":76,"y":-0.88},{"k":"By|d","x":82.4,"y":-0.63},{"k":"By|d","x":90,"y":-0.42},{"k":"By|d","x":100,"y":-0.26},
{"k":"Bz|d","x":-100,"y":0.22},{"k":"Bz|d","x":-90,"y":0.25},{"k":"Bz|d","x":-80,"y":0.26},{"k":"Bz|d","x":-71,"y":0.2},{"k":"Bz|d","x":-68,"y":0.08},{"k":"Bz|d","x":-65,"y":-0.12},{"k":"Bz|d","x":-62,"y":-0.42},{"k":"Bz|d","x":-59,"y":-0.85},{"k":"Bz|d","x":-56,"y":-1.35},{"k":"Bz|d","x":-53,"y":-1.92},{"k":"Bz|d","x":-50.5,"y":-2.4},{"k":"Bz|d","x":-48.5,"y":-2.82},{"k":"Bz|d","x":-46,"y":-3.32},{"k":"Bz|d","x":-44,"y":-3.7},{"k":"Bz|d","x":-42,"y":-3.88},{"k":"Bz|d","x":-40,"y":-3.92},{"k":"Bz|d","x":-38,"y":-3.78},{"k":"Bz|d","x":-36.5,"y":-3.55},{"k":"Bz|d","x":-34.9,"y":-3.25},{"k":"Bz|d","x":-32.5,"y":-2.65},{"k":"Bz|d","x":-30.4,"y":-1.95},{"k":"Bz|d","x":-28,"y":-1.2},{"k":"Bz|d","x":-25.9,"y":-0.55},{"k":"Bz|d","x":-24,"y":-0.15},{"k":"Bz|d","x":-22,"y":0.05},{"k":"Bz|d","x":-20,"y":0.13},{"k":"Bz|d","x":-18,"y":0.08},{"k":"Bz|d","x":-16.5,"y":-0.1},{"k":"Bz|d","x":-15,"y":-0.4},{"k":"Bz|d","x":-13,"y":-0.8},{"k":"Bz|d","x":-11,"y":-1.12},{"k":"Bz|d","x":-8.5,"y":-1.38},{"k":"Bz|d","x":-6,"y":-1.5},{"k":"Bz|d","x":-3,"y":-1.55},{"k":"Bz|d","x":0,"y":-1.52},{"k":"Bz|d","x":5,"y":-1.48},{"k":"Bz|d","x":10.2,"y":-1.45},{"k":"Bz|d","x":14,"y":-1.42},{"k":"Bz|d","x":17.7,"y":-1.4},{"k":"Bz|d","x":21,"y":-1.45},{"k":"Bz|d","x":25.3,"y":-1.56},{"k":"Bz|d","x":30,"y":-1.6},{"k":"Bz|d","x":34.3,"y":-1.61},{"k":"Bz|d","x":39,"y":-1.64},{"k":"Bz|d","x":43.3,"y":-1.67},{"k":"Bz|d","x":47,"y":-1.66},{"k":"Bz|d","x":50.8,"y":-1.61},{"k":"Bz|d","x":54.5,"y":-1.47},{"k":"Bz|d","x":58.3,"y":-1.28},{"k":"Bz|d","x":63,"y":-1.05},{"k":"Bz|d","x":67.4,"y":-0.82},{"k":"Bz|d","x":73,"y":-0.62},{"k":"Bz|d","x":79.4,"y":-0.45},{"k":"Bz|d","x":88,"y":-0.27},{"k":"Bz|d","x":100,"y":-0.12}
],
"d":[
{"k":"Y=–20 m, Z=19 m|s","x":-100,"y":0.76},{"k":"Y=–20 m, Z=19 m|s","x":-94,"y":0.95},{"k":"Y=–20 m, Z=19 m|s","x":-89.4,"y":1.15},{"k":"Y=–20 m, Z=19 m|s","x":-84,"y":1.38},{"k":"Y=–20 m, Z=19 m|s","x":-78.6,"y":1.65},{"k":"Y=–20 m, Z=19 m|s","x":-73,"y":1.98},{"k":"Y=–20 m, Z=19 m|s","x":-67.8,"y":2.4},{"k":"Y=–20 m, Z=19 m|s","x":-63,"y":3.2},{"k":"Y=–20 m, Z=19 m|s","x":-58.8,"y":4.2},{"k":"Y=–20 m, Z=19 m|s","x":-56,"y":4.85},{"k":"Y=–20 m, Z=19 m|s","x":-53.4,"y":5.47},{"k":"Y=–20 m, Z=19 m|s","x":-50,"y":6.35},{"k":"Y=–20 m, Z=19 m|s","x":-46.2,"y":7.25},{"k":"Y=–20 m, Z=19 m|s","x":-42.5,"y":7.85},{"k":"Y=–20 m, Z=19 m|s","x":-39,"y":8.14},{"k":"Y=–20 m, Z=19 m|s","x":-35.4,"y":8.32},{"k":"Y=–20 m, Z=19 m|s","x":-32,"y":8.2},{"k":"Y=–20 m, Z=19 m|s","x":-28.2,"y":7.96},{"k":"Y=–20 m, Z=19 m|s","x":-24,"y":7.65},{"k":"Y=–20 m, Z=19 m|s","x":-19.2,"y":7.25},{"k":"Y=–20 m, Z=19 m|s","x":-15,"y":6.9},{"k":"Y=–20 m, Z=19 m|s","x":-10.3,"y":6.49},{"k":"Y=–20 m, Z=19 m|s","x":-6.5,"y":6.05},{"k":"Y=–20 m, Z=19 m|s","x":-3.1,"y":5.47},{"k":"Y=–20 m, Z=19 m|s","x":0,"y":5.1},{"k":"Y=–20 m, Z=19 m|s","x":2.3,"y":4.96},{"k":"Y=–20 m, Z=19 m|s","x":6,"y":4.9},{"k":"Y=–20 m, Z=19 m|s","x":9.5,"y":4.83},{"k":"Y=–20 m, Z=19 m|s","x":14.9,"y":4.58},{"k":"Y=–20 m, Z=19 m|s","x":18.5,"y":4.35},{"k":"Y=–20 m, Z=19 m|s","x":22.1,"y":4.07},{"k":"Y=–20 m, Z=19 m|s","x":25.7,"y":3.92},{"k":"Y=–20 m, Z=19 m|s","x":29.3,"y":3.82},{"k":"Y=–20 m, Z=19 m|s","x":33,"y":3.74},{"k":"Y=–20 m, Z=19 m|s","x":36.5,"y":3.74},{"k":"Y=–20 m, Z=19 m|s","x":40,"y":3.85},{"k":"Y=–20 m, Z=19 m|s","x":43.7,"y":3.9},{"k":"Y=–20 m, Z=19 m|s","x":47.3,"y":3.72},{"k":"Y=–20 m, Z=19 m|s","x":50.9,"y":3.43},{"k":"Y=–20 m, Z=19 m|s","x":56,"y":2.95},{"k":"Y=–20 m, Z=19 m|s","x":61.7,"y":2.42},{"k":"Y=–20 m, Z=19 m|s","x":67,"y":2.0},{"k":"Y=–20 m, Z=19 m|s","x":72.5,"y":1.65},{"k":"Y=–20 m, Z=19 m|s","x":80,"y":1.28},{"k":"Y=–20 m, Z=19 m|s","x":86.9,"y":1.02},{"k":"Y=–20 m, Z=19 m|s","x":93,"y":0.82},{"k":"Y=–20 m, Z=19 m|s","x":100,"y":0.64},
{"k":"Y=0, Z=19 m|s","x":-100,"y":0.69},{"k":"Y=0, Z=19 m|s","x":-94.6,"y":0.85},{"k":"Y=0, Z=19 m|s","x":-89.4,"y":1.0},{"k":"Y=0, Z=19 m|s","x":-84,"y":1.25},{"k":"Y=0, Z=19 m|s","x":-78.6,"y":1.53},{"k":"Y=0, Z=19 m|s","x":-73,"y":1.9},{"k":"Y=0, Z=19 m|s","x":-67.8,"y":2.4},{"k":"Y=0, Z=19 m|s","x":-64,"y":2.85},{"k":"Y=0, Z=19 m|s","x":-60.6,"y":3.4},{"k":"Y=0, Z=19 m|s","x":-57.9,"y":4.1},{"k":"Y=0, Z=19 m|s","x":-55.2,"y":4.96},{"k":"Y=0, Z=19 m|s","x":-52.5,"y":6.3},{"k":"Y=0, Z=19 m|s","x":-49.8,"y":7.76},{"k":"Y=0, Z=19 m|s","x":-47,"y":9.1},{"k":"Y=0, Z=19 m|s","x":-44.4,"y":10.3},{"k":"Y=0, Z=19 m|s","x":-42,"y":10.95},{"k":"Y=0, Z=19 m|s","x":-39.9,"y":11.2},{"k":"Y=0, Z=19 m|s","x":-37.5,"y":10.95},{"k":"Y=0, Z=19 m|s","x":-35.4,"y":10.4},{"k":"Y=0, Z=19 m|s","x":-33,"y":9.85},{"k":"Y=0, Z=19 m|s","x":-30.9,"y":9.4},{"k":"Y=0, Z=19 m|s","x":-28.2,"y":9.16},{"k":"Y=0, Z=19 m|s","x":-26.5,"y":9.3},{"k":"Y=0, Z=19 m|s","x":-24.6,"y":9.8},{"k":"Y=0, Z=19 m|s","x":-22,"y":10.9},{"k":"Y=0, Z=19 m|s","x":-19.2,"y":12.3},{"k":"Y=0, Z=19 m|s","x":-16.5,"y":13.7},{"k":"Y=0, Z=19 m|s","x":-13.8,"y":15.1},{"k":"Y=0, Z=19 m|s","x":-11.5,"y":16.1},{"k":"Y=0, Z=19 m|s","x":-9.4,"y":16.6},{"k":"Y=0, Z=19 m|s","x":-8,"y":16.55},{"k":"Y=0, Z=19 m|s","x":-6.7,"y":16.2},{"k":"Y=0, Z=19 m|s","x":-5,"y":15.3},{"k":"Y=0, Z=19 m|s","x":-3.1,"y":13.9},{"k":"Y=0, Z=19 m|s","x":-1.3,"y":12.3},{"k":"Y=0, Z=19 m|s","x":0.5,"y":10.8},{"k":"Y=0, Z=19 m|s","x":2.5,"y":9.6},{"k":"Y=0, Z=19 m|s","x":4.5,"y":8.78},{"k":"Y=0, Z=19 m|s","x":6.5,"y":9.3},{"k":"Y=0, Z=19 m|s","x":8.6,"y":10.3},{"k":"Y=0, Z=19 m|s","x":11.5,"y":11.25},{"k":"Y=0, Z=19 m|s","x":14,"y":11.5},{"k":"Y=0, Z=19 m|s","x":16.2,"y":11.0},{"k":"Y=0, Z=19 m|s","x":18.5,"y":9.8},{"k":"Y=0, Z=19 m|s","x":21,"y":8.1},{"k":"Y=0, Z=19 m|s","x":23.9,"y":6.23},{"k":"Y=0, Z=19 m|s","x":26.5,"y":5.0},{"k":"Y=0, Z=19 m|s","x":28.5,"y":4.3},{"k":"Y=0, Z=19 m|s","x":30.3,"y":3.9},{"k":"Y=0, Z=19 m|s","x":31.5,"y":3.8},{"k":"Y=0, Z=19 m|s","x":32.8,"y":4.1},{"k":"Y=0, Z=19 m|s","x":34.5,"y":5.3},{"k":"Y=0, Z=19 m|s","x":36.5,"y":7.1},{"k":"Y=0, Z=19 m|s","x":39,"y":8.7},{"k":"Y=0, Z=19 m|s","x":41.9,"y":9.67},{"k":"Y=0, Z=19 m|s","x":43.7,"y":9.92},{"k":"Y=0, Z=19 m|s","x":45.5,"y":9.7},{"k":"Y=0, Z=19 m|s","x":49.1,"y":8.27},{"k":"Y=0, Z=19 m|s","x":52.5,"y":6.6},{"k":"Y=0, Z=19 m|s","x":56.3,"y":4.96},{"k":"Y=0, Z=19 m|s","x":60,"y":3.8},{"k":"Y=0, Z=19 m|s","x":63.5,"y":3.05},{"k":"Y=0, Z=19 m|s","x":68,"y":2.4},{"k":"Y=0, Z=19 m|s","x":72.5,"y":1.91},{"k":"Y=0, Z=19 m|s","x":78,"y":1.45},{"k":"Y=0, Z=19 m|s","x":83.3,"y":1.15},{"k":"Y=0, Z=19 m|s","x":90,"y":0.88},{"k":"Y=0, Z=19 m|s","x":100,"y":0.64},
{"k":"Y=20 m, Z=19 m|s","x":-100,"y":0.51},{"k":"Y=20 m, Z=19 m|s","x":-91,"y":0.68},{"k":"Y=20 m, Z=19 m|s","x":-82.2,"y":0.89},{"k":"Y=20 m, Z=19 m|s","x":-75,"y":1.2},{"k":"Y=20 m, Z=19 m|s","x":-67.8,"y":1.65},{"k":"Y=20 m, Z=19 m|s","x":-62,"y":2.35},{"k":"Y=20 m, Z=19 m|s","x":-57,"y":3.18},{"k":"Y=20 m, Z=19 m|s","x":-52.5,"y":3.95},{"k":"Y=20 m, Z=19 m|s","x":-48,"y":4.45},{"k":"Y=20 m, Z=19 m|s","x":-44.5,"y":4.75},{"k":"Y=20 m, Z=19 m|s","x":-40.8,"y":4.83},{"k":"Y=20 m, Z=19 m|s","x":-38,"y":4.65},{"k":"Y=20 m, Z=19 m|s","x":-35.4,"y":4.2},{"k":"Y=20 m, Z=19 m|s","x":-32.5,"y":3.3},{"k":"Y=20 m, Z=19 m|s","x":-30,"y":2.16},{"k":"Y=20 m, Z=19 m|s","x":-27.5,"y":1.3},{"k":"Y=20 m, Z=19 m|s","x":-25.5,"y":0.64},{"k":"Y=20 m, Z=19 m|s","x":-24.2,"y":0.35},{"k":"Y=20 m, Z=19 m|s","x":-23.2,"y":0.25},{"k":"Y=20 m, Z=19 m|s","x":-21.8,"y":0.7},{"k":"Y=20 m, Z=19 m|s","x":-20.1,"y":1.4},{"k":"Y=20 m, Z=19 m|s","x":-17.8,"y":2.35},{"k":"Y=20 m, Z=19 m|s","x":-15.6,"y":3.18},{"k":"Y=20 m, Z=19 m|s","x":-13,"y":3.85},{"k":"Y=20 m, Z=19 m|s","x":-10.3,"y":4.33},{"k":"Y=20 m, Z=19 m|s","x":-7.5,"y":4.45},{"k":"Y=20 m, Z=19 m|s","x":-5.8,"y":4.45},{"k":"Y=20 m, Z=19 m|s","x":-2.5,"y":4.38},{"k":"Y=20 m, Z=19 m|s","x":0.5,"y":4.33},{"k":"Y=20 m, Z=19 m|s","x":6,"y":4.28},{"k":"Y=20 m, Z=19 m|s","x":11.3,"y":4.25},{"k":"Y=20 m, Z=19 m|s","x":16,"y":4.22},{"k":"Y=20 m, Z=19 m|s","x":22.1,"y":4.15},{"k":"Y=20 m, Z=19 m|s","x":25,"y":3.95},{"k":"Y=20 m, Z=19 m|s","x":28,"y":3.55},{"k":"Y=20 m, Z=19 m|s","x":31.1,"y":3.31},{"k":"Y=20 m, Z=19 m|s","x":34,"y":3.45},{"k":"Y=20 m, Z=19 m|s","x":36.5,"y":3.56},{"k":"Y=20 m, Z=19 m|s","x":40,"y":3.66},{"k":"Y=20 m, Z=19 m|s","x":43.7,"y":3.69},{"k":"Y=20 m, Z=19 m|s","x":47.5,"y":3.5},{"k":"Y=20 m, Z=19 m|s","x":52.7,"y":3.18},{"k":"Y=20 m, Z=19 m|s","x":57,"y":2.72},{"k":"Y=20 m, Z=19 m|s","x":61.7,"y":2.29},{"k":"Y=20 m, Z=19 m|s","x":67,"y":1.85},{"k":"Y=20 m, Z=19 m|s","x":72.5,"y":1.4},{"k":"Y=20 m, Z=19 m|s","x":80,"y":1.07},{"k":"Y=20 m, Z=19 m|s","x":86.9,"y":0.84},{"k":"Y=20 m, Z=19 m|s","x":93,"y":0.7},{"k":"Y=20 m, Z=19 m|s","x":100,"y":0.59},
{"k":"Y=–20 m, Z=19 m|d","x":-100,"y":0.8},{"k":"Y=–20 m, Z=19 m|d","x":-94,"y":0.98},{"k":"Y=–20 m, Z=19 m|d","x":-89,"y":1.18},{"k":"Y=–20 m, Z=19 m|d","x":-84,"y":1.4},{"k":"Y=–20 m, Z=19 m|d","x":-78.6,"y":1.68},{"k":"Y=–20 m, Z=19 m|d","x":-73,"y":2.0},{"k":"Y=–20 m, Z=19 m|d","x":-68,"y":2.42},{"k":"Y=–20 m, Z=19 m|d","x":-63,"y":3.2},{"k":"Y=–20 m, Z=19 m|d","x":-58.8,"y":4.2},{"k":"Y=–20 m, Z=19 m|d","x":-56,"y":4.85},{"k":"Y=–20 m, Z=19 m|d","x":-53.4,"y":5.45},{"k":"Y=–20 m, Z=19 m|d","x":-50,"y":6.3},{"k":"Y=–20 m, Z=19 m|d","x":-46,"y":7.15},{"k":"Y=–20 m, Z=19 m|d","x":-42.5,"y":7.75},{"k":"Y=–20 m, Z=19 m|d","x":-39,"y":8.02},{"k":"Y=–20 m, Z=19 m|d","x":-35.4,"y":8.15},{"k":"Y=–20 m, Z=19 m|d","x":-32,"y":8.05},{"k":"Y=–20 m, Z=19 m|d","x":-28,"y":7.8},{"k":"Y=–20 m, Z=19 m|d","x":-24,"y":7.45},{"k":"Y=–20 m, Z=19 m|d","x":-20,"y":7.05},{"k":"Y=–20 m, Z=19 m|d","x":-15,"y":6.65},{"k":"Y=–20 m, Z=19 m|d","x":-10,"y":6.2},{"k":"Y=–20 m, Z=19 m|d","x":-5,"y":5.6},{"k":"Y=–20 m, Z=19 m|d","x":0,"y":5.15},{"k":"Y=–20 m, Z=19 m|d","x":5,"y":4.88},{"k":"Y=–20 m, Z=19 m|d","x":10,"y":4.7},{"k":"Y=–20 m, Z=19 m|d","x":15,"y":4.5},{"k":"Y=–20 m, Z=19 m|d","x":20,"y":4.3},{"k":"Y=–20 m, Z=19 m|d","x":25,"y":4.1},{"k":"Y=–20 m, Z=19 m|d","x":30,"y":3.95},{"k":"Y=–20 m, Z=19 m|d","x":35,"y":3.85},{"k":"Y=–20 m, Z=19 m|d","x":40,"y":3.75},{"k":"Y=–20 m, Z=19 m|d","x":45,"y":3.65},{"k":"Y=–20 m, Z=19 m|d","x":50,"y":3.45},{"k":"Y=–20 m, Z=19 m|d","x":56,"y":3.0},{"k":"Y=–20 m, Z=19 m|d","x":62,"y":2.45},{"k":"Y=–20 m, Z=19 m|d","x":67,"y":2.05},{"k":"Y=–20 m, Z=19 m|d","x":72.5,"y":1.7},{"k":"Y=–20 m, Z=19 m|d","x":80,"y":1.3},{"k":"Y=–20 m, Z=19 m|d","x":87,"y":1.05},{"k":"Y=–20 m, Z=19 m|d","x":93,"y":0.85},{"k":"Y=–20 m, Z=19 m|d","x":100,"y":0.66},
{"k":"Y=0, Z=19 m|d","x":-100,"y":0.72},{"k":"Y=0, Z=19 m|d","x":-94.6,"y":0.88},{"k":"Y=0, Z=19 m|d","x":-89.4,"y":1.05},{"k":"Y=0, Z=19 m|d","x":-84,"y":1.3},{"k":"Y=0, Z=19 m|d","x":-78.6,"y":1.58},{"k":"Y=0, Z=19 m|d","x":-73,"y":1.95},{"k":"Y=0, Z=19 m|d","x":-67.8,"y":2.45},{"k":"Y=0, Z=19 m|d","x":-64,"y":2.9},{"k":"Y=0, Z=19 m|d","x":-60.6,"y":3.45},{"k":"Y=0, Z=19 m|d","x":-57.9,"y":4.15},{"k":"Y=0, Z=19 m|d","x":-55.2,"y":5.0},{"k":"Y=0, Z=19 m|d","x":-52.5,"y":6.3},{"k":"Y=0, Z=19 m|d","x":-49.8,"y":7.7},{"k":"Y=0, Z=19 m|d","x":-47,"y":9.0},{"k":"Y=0, Z=19 m|d","x":-44.4,"y":10.1},{"k":"Y=0, Z=19 m|d","x":-42,"y":10.75},{"k":"Y=0, Z=19 m|d","x":-39.9,"y":11.0},{"k":"Y=0, Z=19 m|d","x":-37.5,"y":10.8},{"k":"Y=0, Z=19 m|d","x":-35.4,"y":10.3},{"k":"Y=0, Z=19 m|d","x":-33,"y":9.75},{"k":"Y=0, Z=19 m|d","x":-30.9,"y":9.3},{"k":"Y=0, Z=19 m|d","x":-28.2,"y":9.05},{"k":"Y=0, Z=19 m|d","x":-26.5,"y":9.2},{"k":"Y=0, Z=19 m|d","x":-24.6,"y":9.7},{"k":"Y=0, Z=19 m|d","x":-22,"y":10.8},{"k":"Y=0, Z=19 m|d","x":-19.2,"y":12.2},{"k":"Y=0, Z=19 m|d","x":-16.5,"y":13.55},{"k":"Y=0, Z=19 m|d","x":-13.8,"y":14.9},{"k":"Y=0, Z=19 m|d","x":-11.5,"y":15.8},{"k":"Y=0, Z=19 m|d","x":-9.4,"y":16.3},{"k":"Y=0, Z=19 m|d","x":-7,"y":16.0},{"k":"Y=0, Z=19 m|d","x":-5,"y":15.2},{"k":"Y=0, Z=19 m|d","x":-3,"y":14.2},{"k":"Y=0, Z=19 m|d","x":-1,"y":12.8},{"k":"Y=0, Z=19 m|d","x":1.4,"y":11.3},{"k":"Y=0, Z=19 m|d","x":3,"y":10.2},{"k":"Y=0, Z=19 m|d","x":5,"y":9.3},{"k":"Y=0, Z=19 m|d","x":8,"y":8.65},{"k":"Y=0, Z=19 m|d","x":11.3,"y":8.27},{"k":"Y=0, Z=19 m|d","x":16,"y":8.1},{"k":"Y=0, Z=19 m|d","x":22.1,"y":8.0},{"k":"Y=0, Z=19 m|d","x":28,"y":7.9},{"k":"Y=0, Z=19 m|d","x":32.9,"y":7.76},{"k":"Y=0, Z=19 m|d","x":38,"y":7.55},{"k":"Y=0, Z=19 m|d","x":43.7,"y":7.25},{"k":"Y=0, Z=19 m|d","x":47,"y":6.8},{"k":"Y=0, Z=19 m|d","x":50.9,"y":6.23},{"k":"Y=0, Z=19 m|d","x":54.5,"y":5.45},{"k":"Y=0, Z=19 m|d","x":58.1,"y":4.7},{"k":"Y=0, Z=19 m|d","x":63,"y":3.8},{"k":"Y=0, Z=19 m|d","x":68.9,"y":3.05},{"k":"Y=0, Z=19 m|d","x":74,"y":2.45},{"k":"Y=0, Z=19 m|d","x":79.7,"y":1.91},{"k":"Y=0, Z=19 m|d","x":86,"y":1.4},{"k":"Y=0, Z=19 m|d","x":93,"y":1.0},{"k":"Y=0, Z=19 m|d","x":100,"y":0.76},
{"k":"Y=20 m, Z=19 m|d","x":-100,"y":0.55},{"k":"Y=20 m, Z=19 m|d","x":-91,"y":0.72},{"k":"Y=20 m, Z=19 m|d","x":-82,"y":0.92},{"k":"Y=20 m, Z=19 m|d","x":-75,"y":1.22},{"k":"Y=20 m, Z=19 m|d","x":-68,"y":1.65},{"k":"Y=20 m, Z=19 m|d","x":-62,"y":2.3},{"k":"Y=20 m, Z=19 m|d","x":-57,"y":3.05},{"k":"Y=20 m, Z=19 m|d","x":-52.5,"y":3.8},{"k":"Y=20 m, Z=19 m|d","x":-48,"y":4.3},{"k":"Y=20 m, Z=19 m|d","x":-44,"y":4.55},{"k":"Y=20 m, Z=19 m|d","x":-40.5,"y":4.6},{"k":"Y=20 m, Z=19 m|d","x":-37.5,"y":4.45},{"k":"Y=20 m, Z=19 m|d","x":-35,"y":4.05},{"k":"Y=20 m, Z=19 m|d","x":-32.5,"y":3.25},{"k":"Y=20 m, Z=19 m|d","x":-30,"y":2.2},{"k":"Y=20 m, Z=19 m|d","x":-27.5,"y":1.35},{"k":"Y=20 m, Z=19 m|d","x":-25.5,"y":0.75},{"k":"Y=20 m, Z=19 m|d","x":-23.5,"y":0.42},{"k":"Y=20 m, Z=19 m|d","x":-22,"y":0.6},{"k":"Y=20 m, Z=19 m|d","x":-20.5,"y":1.2},{"k":"Y=20 m, Z=19 m|d","x":-18,"y":2.2},{"k":"Y=20 m, Z=19 m|d","x":-15.5,"y":3.05},{"k":"Y=20 m, Z=19 m|d","x":-13,"y":3.7},{"k":"Y=20 m, Z=19 m|d","x":-10,"y":4.1},{"k":"Y=20 m, Z=19 m|d","x":-6.7,"y":4.2},{"k":"Y=20 m, Z=19 m|d","x":-3,"y":4.05},{"k":"Y=20 m, Z=19 m|d","x":0.5,"y":3.94},{"k":"Y=20 m, Z=19 m|d","x":6,"y":3.88},{"k":"Y=20 m, Z=19 m|d","x":11.3,"y":3.82},{"k":"Y=20 m, Z=19 m|d","x":18,"y":3.76},{"k":"Y=20 m, Z=19 m|d","x":25.7,"y":3.69},{"k":"Y=20 m, Z=19 m|d","x":31,"y":3.62},{"k":"Y=20 m, Z=19 m|d","x":36.5,"y":3.56},{"k":"Y=20 m, Z=19 m|d","x":42,"y":3.38},{"k":"Y=20 m, Z=19 m|d","x":47.3,"y":3.18},{"k":"Y=20 m, Z=19 m|d","x":52.7,"y":2.82},{"k":"Y=20 m, Z=19 m|d","x":58.1,"y":2.42},{"k":"Y=20 m, Z=19 m|d","x":65,"y":2.0},{"k":"Y=20 m, Z=19 m|d","x":72.5,"y":1.65},{"k":"Y=20 m, Z=19 m|d","x":80,"y":1.25},{"k":"Y=20 m, Z=19 m|d","x":86,"y":0.98},{"k":"Y=20 m, Z=19 m|d","x":93,"y":0.75},{"k":"Y=20 m, Z=19 m|d","x":100,"y":0.59}
]
},
"bounds":"flush",
"spacing":15,
"resolve":{"scale":{"color":"independent","strokeDash":"independent"},"legend":{"color":"independent","strokeDash":"independent"}},
"vconcat":[
{"width":445,"height":277,"layer":[
 {"data":{"name":"a"},"mark":{"type":"line","strokeWidth":2.4,"interpolate":"monotone"},
  "encoding":{
   "x":{"field":"x","type":"quantitative","scale":{"domain":[-100,100],"nice":false,"zero":false},
    "axis":{"orient":"bottom","offset":-72,"labelOverlap":false,"values":[-100,-50,0,50,100],"labelExpr":"datum.value !== 0 ? datum.label : ''","grid":true,"title":"X, m","titleX":465,"titleY":0,"titleAlign":"left","titleBaseline":"middle","titleColor":"#777","titleFontSize":13}},
   "y":{"field":"y","type":"quantitative","scale":{"domain":[-2.94,8.37],"nice":false,"zero":false},
    "axis":{"orient":"left","offset":-222.5,"labelOverlap":false,"values":[-2,0,2,4,6,8],"labelExpr":"datum.value !== 0 ? datum.label : ''","grid":true,"title":"Bx, By, Bz, nT","titleAngle":0,"titleX":8,"titleY":-7,"titleAlign":"left","titleBaseline":"middle","titleFontSize":14}},
   "color":{"field":"k","type":"nominal","scale":{"domain":["Bx|s","By|s","Bz|s","Bx|d","By|d","Bz|d"],"range":["#ff1a1a","#1fe31f","#1a1aff","#ff1a1a","#1fe31f","#1a1aff"]},
    "legend":{"title":null,"orient":"none","legendX":510,"legendY":26,"symbolType":"stroke","symbolSize":3025,"symbolStrokeWidth":3,"labelFont":"Liberation Sans","labelFontSize":18,"labelColor":"#222","labelOffset":10,"rowPadding":12.2,"clipHeight":20,"labelExpr":"split(datum.label, '|')[0]"}},
   "strokeDash":{"field":"k","type":"nominal","scale":{"domain":["Bx|s","By|s","Bz|s","Bx|d","By|d","Bz|d"],"range":[[1,0],[1,0],[1,0],[6,4],[6,4],[6,4]]},
    "legend":{"title":null,"orient":"none","legendX":510,"legendY":26,"symbolType":"stroke","symbolSize":3025,"symbolStrokeWidth":3,"labelFont":"Liberation Sans","labelFontSize":18,"labelColor":"#222","labelOffset":10,"rowPadding":12.2,"clipHeight":20,"labelExpr":"split(datum.label, '|')[0]"}}
  }},
 {"data":{"values":[{"x":-13.3,"y":6.24,"x2":2.5,"y2":7.06},{"x":4.7,"y":4.69,"x2":20.4,"y2":5.54},{"x":31.7,"y":3.63,"x2":48.9,"y2":4.56},{"x":20.4,"y":0.78,"x2":37.7,"y2":1.73},{"x":19.7,"y":-0.2,"x2":33.2,"y2":-1.27},{"x":31.7,"y":-1.67,"x2":34.7,"y2":-2.52}]},
  "mark":{"type":"rule","color":"black","strokeWidth":1.2},
  "encoding":{"x":{"field":"x","type":"quantitative","scale":{"domain":[-100,100],"nice":false,"zero":false}},"y":{"field":"y","type":"quantitative","scale":{"domain":[-2.94,8.37],"nice":false,"zero":false}},"x2":{"field":"x2"},"y2":{"field":"y2"}}},
 {"data":{"values":[{"x":-104.2,"x2":-66.5,"y":8.7,"y2":7.21}]},
  "mark":{"type":"rect","fill":"white","stroke":"black","strokeWidth":1.2},
  "encoding":{"x":{"field":"x","type":"quantitative","scale":{"domain":[-100,100],"nice":false,"zero":false}},"y":{"field":"y","type":"quantitative","scale":{"domain":[-2.94,8.37],"nice":false,"zero":false}},"x2":{"field":"x2"},"y2":{"field":"y2"}}},
 {"data":{"values":[{"t":"Y= –20 m","x":-85.35,"y":8.33},{"t":"Z = 19 m","x":-85.35,"y":7.55}]},
  "mark":{"type":"text","fontSize":16,"font":"Liberation Sans","align":"center","baseline":"middle","color":"#111"},
  "encoding":{"x":{"field":"x","type":"quantitative","scale":{"domain":[-100,100],"nice":false,"zero":false}},"y":{"field":"y","type":"quantitative","scale":{"domain":[-2.94,8.37],"nice":false,"zero":false}},"text":{"field":"t"}}},
 {"data":{"values":[{"t":"Bx","x":4.7,"y":7.22},{"t":"By","x":21.9,"y":5.71},{"t":"By","x":49.7,"y":4.69},{"t":"Bx","x":38.4,"y":1.84},{"t":"Bz","x":4.7,"y":-0.18},{"t":"Bz","x":36.9,"y":-2.63}]},
  "mark":{"type":"text","fontSize":20,"font":"Liberation Sans","align":"left","baseline":"middle","color":"#111"},
  "encoding":{"x":{"field":"x","type":"quantitative","scale":{"domain":[-100,100],"nice":false,"zero":false}},"y":{"field":"y","type":"quantitative","scale":{"domain":[-2.94,8.37],"nice":false,"zero":false}},"text":{"field":"t"}}},
 {"data":{"values":[{"t":"a)","x":159.8,"y":-2.73}]},
  "mark":{"type":"text","fontSize":22,"font":"Liberation Serif","fontStyle":"italic","align":"center","baseline":"middle","color":"#111"},
  "encoding":{"x":{"field":"x","type":"quantitative","scale":{"domain":[-100,100],"nice":false,"zero":false}},"y":{"field":"y","type":"quantitative","scale":{"domain":[-2.94,8.37],"nice":false,"zero":false}},"text":{"field":"t"}}}
]},
{"width":445,"height":275,"layer":[
 {"data":{"name":"b"},"mark":{"type":"line","strokeWidth":2.4,"interpolate":"monotone"},
  "encoding":{
   "x":{"field":"x","type":"quantitative","scale":{"domain":[-100,100],"nice":false,"zero":false},
    "axis":{"orient":"bottom","offset":-137,"labelOverlap":false,"values":[-100,-50,0,50,100],"labelExpr":"datum.value !== 0 ? datum.label : ''","grid":true,"title":"X, m","titleX":465,"titleY":0,"titleAlign":"left","titleBaseline":"middle","titleColor":"#777","titleFontSize":13}},
   "y":{"field":"y","type":"quantitative","scale":{"domain":[-15.85,15.9],"nice":false,"zero":false},
    "axis":{"orient":"left","offset":-222.5,"labelOverlap":false,"values":[-15,-10,-5,0,5,10,15],"labelExpr":"datum.value !== 0 ? datum.label : ''","grid":true,"title":"Bx, By, Bz, nT","titleAngle":0,"titleX":10,"titleY":3,"titleAlign":"left","titleBaseline":"middle","titleFontSize":14}},
   "color":{"field":"k","type":"nominal","scale":{"domain":["Bx|s","By|s","Bz|s","Bx|d","By|d","Bz|d"],"range":["#ff1a1a","#1fe31f","#1a1aff","#ff1a1a","#1fe31f","#1a1aff"]},
    "legend":{"title":null,"orient":"none","legendX":508,"legendY":28,"symbolType":"stroke","symbolSize":3136,"symbolStrokeWidth":3,"labelFont":"Liberation Sans","labelFontSize":18,"labelColor":"#222","labelOffset":10,"rowPadding":12,"clipHeight":20,"labelExpr":"split(datum.label, '|')[0]"}},
   "strokeDash":{"field":"k","type":"nominal","scale":{"domain":["Bx|s","By|s","Bz|s","Bx|d","By|d","Bz|d"],"range":[[1,0],[1,0],[1,0],[6,4],[6,4],[6,4]]},
    "legend":{"title":null,"orient":"none","legendX":508,"legendY":28,"symbolType":"stroke","symbolSize":3136,"symbolStrokeWidth":3,"labelFont":"Liberation Sans","labelFontSize":18,"labelColor":"#222","labelOffset":10,"rowPadding":12,"clipHeight":20,"labelExpr":"split(datum.label, '|')[0]"}}
  }},
 {"data":{"values":[{"x":-69.8,"y":6.18,"x2":-56.9,"y2":4.25},{"x":14.1,"y":7.15,"x2":8.8,"y2":1.93},{"x":74.6,"y":2.78,"x2":58,"y2":0.38},{"x":18.7,"y":-4.83,"x2":39.1,"y2":-1.16},{"x":77.2,"y":-6.18,"x2":57.6,"y2":-4.55},{"x":55.6,"y":-10.2,"x2":47.4,"y2":-8.9}]},
  "mark":{"type":"rule","color":"black","strokeWidth":1.2},
  "encoding":{"x":{"field":"x","type":"quantitative","scale":{"domain":[-100,100],"nice":false,"zero":false}},"y":{"field":"y","type":"quantitative","scale":{"domain":[-15.85,15.9],"nice":false,"zero":false}},"x2":{"field":"x2"},"y2":{"field":"y2"}}},
 {"data":{"values":[{"x":-104.1,"x2":-66.3,"y":15.9,"y2":11.6}]},
  "mark":{"type":"rect","fill":"white","stroke":"black","strokeWidth":1.2},
  "encoding":{"x":{"field":"x","type":"quantitative","scale":{"domain":[-100,100],"nice":false,"zero":false}},"y":{"field":"y","type":"quantitative","scale":{"domain":[-15.85,15.9],"nice":false,"zero":false}},"x2":{"field":"x2"},"y2":{"field":"y2"}}},
 {"data":{"values":[{"t":"Y= 0 m","x":-85.2,"y":14.6},{"t":"Z = 19 m","x":-85.2,"y":12.55}]},
  "mark":{"type":"text","fontSize":16,"font":"Liberation Sans","align":"center","baseline":"middle","color":"#111"},
  "encoding":{"x":{"field":"x","type":"quantitative","scale":{"domain":[-100,100],"nice":false,"zero":false}},"y":{"field":"y","type":"quantitative","scale":{"domain":[-15.85,15.9],"nice":false,"zero":false}},"text":{"field":"t"}}},
 {"data":{"values":[{"t":"By","x":-85.6,"y":7.03},{"t":"Bx","x":16.4,"y":7.53},{"t":"By","x":75.4,"y":3.28},{"t":"Bx","x":5.8,"y":-5.02},{"t":"Bz","x":82.2,"y":-5.79},{"t":"Bz","x":56.5,"y":-10.5}]},
  "mark":{"type":"text","fontSize":20,"font":"Liberation Sans","align":"left","baseline":"middle","color":"#111"},
  "encoding":{"x":{"field":"x","type":"quantitative","scale":{"domain":[-100,100],"nice":false,"zero":false}},"y":{"field":"y","type":"quantitative","scale":{"domain":[-15.85,15.9],"nice":false,"zero":false}},"text":{"field":"t"}}},
 {"data":{"values":[{"t":"b)","x":163,"y":-14.5}]},
  "mark":{"type":"text","fontSize":22,"font":"Liberation Serif","fontStyle":"italic","align":"center","baseline":"middle","color":"#111"},
  "encoding":{"x":{"field":"x","type":"quantitative","scale":{"domain":[-100,100],"nice":false,"zero":false}},"y":{"field":"y","type":"quantitative","scale":{"domain":[-15.85,15.9],"nice":false,"zero":false}},"text":{"field":"t"}}}
]},
{"width":445,"height":273,"layer":[
 {"data":{"name":"c"},"mark":{"type":"line","strokeWidth":2.4,"interpolate":"monotone"},
  "encoding":{
   "x":{"field":"x","type":"quantitative","scale":{"domain":[-100,100],"nice":false,"zero":false},
    "axis":{"orient":"bottom","offset":-162,"labelOverlap":false,"values":[-100,-50,0,50,100],"labelExpr":"datum.value !== 0 ? datum.label : ''","grid":true,"title":"X, m","titleX":465,"titleY":0,"titleAlign":"left","titleBaseline":"middle","titleColor":"#777","titleFontSize":13}},
   "y":{"field":"y","type":"quantitative","scale":{"domain":[-4.517,3.11],"nice":false,"zero":false},
    "axis":{"orient":"left","offset":-222.5,"labelOverlap":false,"values":[-4,-2,0,2],"labelExpr":"datum.value !== 0 ? datum.label : ''","grid":true,"title":"Bx, By, Bz, nT","titleAngle":0,"titleX":7,"titleY":3,"titleAlign":"left","titleBaseline":"middle","titleFontSize":14}},
   "color":{"field":"k","type":"nominal","scale":{"domain":["Bx|s","By|s","Bz|s","Bx|d","By|d","Bz|d"],"range":["#ff1a1a","#1fe31f","#1a1aff","#ff1a1a","#1fe31f","#1a1aff"]},
    "legend":{"title":null,"orient":"none","legendX":510,"legendY":21,"symbolType":"stroke","symbolSize":3025,"symbolStrokeWidth":3,"labelFont":"Liberation Sans","labelFontSize":18,"labelColor":"#222","labelOffset":10,"rowPadding":12.6,"clipHeight":20,"labelExpr":"split(datum.label, '|')[0]"}},
   "strokeDash":{"field":"k","type":"nominal","scale":{"domain":["Bx|s","By|s","Bz|s","Bx|d","By|d","Bz|d"],"range":[[1,0],[1,0],[1,0],[6,4],[6,4],[6,4]]},
    "legend":{"title":null,"orient":"none","legendX":510,"legendY":21,"symbolType":"stroke","symbolSize":3025,"symbolStrokeWidth":3,"labelFont":"Liberation Sans","labelFontSize":18,"labelColor":"#222","labelOffset":10,"rowPadding":12.6,"clipHeight":20,"labelExpr":"split(datum.label, '|')[0]"}}
  }},
 {"data":{"values":[{"x":24.5,"y":1.41,"x2":8.4,"y2":0.81},{"x":44.8,"y":0.74,"x2":28.6,"y2":0.16},{"x":23.8,"y":-0.96,"x2":14.7,"y2":-1.4},{"x":19.2,"y":-2.63,"x2":11,"y2":-3.61},{"x":62.1,"y":-3.3,"x2":47.1,"y2":-3.16},{"x":-67.2,"y":-2.56,"x2":-51.4,"y2":-2.1}]},
  "mark":{"type":"rule","color":"black","strokeWidth":1.2},
  "encoding":{"x":{"field":"x","type":"quantitative","scale":{"domain":[-100,100],"nice":false,"zero":false}},"y":{"field":"y","type":"quantitative","scale":{"domain":[-4.517,3.11],"nice":false,"zero":false}},"x2":{"field":"x2"},"y2":{"field":"y2"}}},
 {"data":{"values":[{"x":-104.6,"x2":-67.1,"y":3.21,"y2":2.2}]},
  "mark":{"type":"rect","fill":"white","stroke":"black","strokeWidth":1.2},
  "encoding":{"x":{"field":"x","type":"quantitative","scale":{"domain":[-100,100],"nice":false,"zero":false}},"y":{"field":"y","type":"quantitative","scale":{"domain":[-4.517,3.11],"nice":false,"zero":false}},"x2":{"field":"x2"},"y2":{"field":"y2"}}},
 {"data":{"values":[{"t":"Y= 20 m","x":-85.85,"y":2.96},{"t":"Z = 19 m","x":-85.85,"y":2.47}]},
  "mark":{"type":"text","fontSize":16,"font":"Liberation Sans","align":"center","baseline":"middle","color":"#111"},
  "encoding":{"x":{"field":"x","type":"quantitative","scale":{"domain":[-100,100],"nice":false,"zero":false}},"y":{"field":"y","type":"quantitative","scale":{"domain":[-4.517,3.11],"nice":false,"zero":false}},"text":{"field":"t"}}},
 {"data":{"values":[{"t":"Bx","x":26.0,"y":1.53},{"t":"Bx","x":46.3,"y":0.87},{"t":"Bz","x":25.3,"y":-0.84},{"t":"By","x":20.8,"y":-2.57},{"t":"By","x":62.9,"y":-3.24},{"t":"Bz","x":-89.8,"y":-2.51}]},
  "mark":{"type":"text","fontSize":20,"font":"Liberation Sans","align":"left","baseline":"middle","color":"#111"},
  "encoding":{"x":{"field":"x","type":"quantitative","scale":{"domain":[-100,100],"nice":false,"zero":false}},"y":{"field":"y","type":"quantitative","scale":{"domain":[-4.517,3.11],"nice":false,"zero":false}},"text":{"field":"t"}}},
 {"data":{"values":[{"t":"c)","x":161.5,"y":-4.15}]},
  "mark":{"type":"text","fontSize":22,"font":"Liberation Serif","fontStyle":"italic","align":"center","baseline":"middle","color":"#111"},
  "encoding":{"x":{"field":"x","type":"quantitative","scale":{"domain":[-100,100],"nice":false,"zero":false}},"y":{"field":"y","type":"quantitative","scale":{"domain":[-4.517,3.11],"nice":false,"zero":false}},"text":{"field":"t"}}}
]},
{"width":371,"height":239,"layer":[
 {"data":{"name":"d"},"mark":{"type":"line","strokeWidth":2.4,"interpolate":"monotone"},
  "encoding":{
   "x":{"field":"x","type":"quantitative","scale":{"domain":[-100,100],"nice":false,"zero":false},
    "axis":{"orient":"bottom","offset":0,"labelOverlap":false,"values":[-100,-50,0,50,100],"labelExpr":"datum.value !== 0 ? datum.label : ''","labelFontSize":12,"labelPadding":1,"grid":true,"title":"X, m","titleX":388,"titleY":0,"titleAlign":"left","titleBaseline":"middle","titleColor":"#777","titleFontSize":12}},
   "y":{"field":"y","type":"quantitative","scale":{"domain":[0,18.25],"nice":false,"zero":false},
    "axis":{"orient":"left","offset":-185.5,"labelOverlap":false,"values":[5,10,15],"labelFontSize":11,"grid":true,"title":"| B |, nT","titleAngle":0,"titleX":-3,"titleY":0,"titleAlign":"right","titleBaseline":"middle","titleFontSize":15}},
   "color":{"field":"k","type":"nominal","scale":{"domain":["Y=–20 m, Z=19 m|s","Y=0, Z=19 m|s","Y=20 m, Z=19 m|s","Y=–20 m, Z=19 m|d","Y=0, Z=19 m|d","Y=20 m, Z=19 m|d"],"range":["#ff1a1a","#1fe31f","#1a1aff","#ff1a1a","#1fe31f","#1a1aff"]},
    "legend":{"title":null,"orient":"none","legendX":425,"legendY":43,"symbolType":"stroke","symbolSize":2116,"symbolStrokeWidth":3,"labelFont":"Liberation Sans","labelFontSize":15,"labelColor":"#222","labelOffset":9,"rowPadding":9.2,"clipHeight":18,"labelLimit":300,"labelExpr":"split(datum.label, '|')[0]"}},
   "strokeDash":{"field":"k","type":"nominal","scale":{"domain":["Y=–20 m, Z=19 m|s","Y=0, Z=19 m|s","Y=20 m, Z=19 m|s","Y=–20 m, Z=19 m|d","Y=0, Z=19 m|d","Y=20 m, Z=19 m|d"],"range":[[1,0],[1,0],[1,0],[6,4],[6,4],[6,4]]},
    "legend":{"title":null,"orient":"none","legendX":425,"legendY":43,"symbolType":"stroke","symbolSize":2116,"symbolStrokeWidth":3,"labelFont":"Liberation Sans","labelFontSize":15,"labelColor":"#222","labelOffset":9,"rowPadding":9.2,"clipHeight":18,"labelLimit":300,"labelExpr":"split(datum.label, '|')[0]"}}
  }},
 {"data":{"values":[{"x":14.0,"y":17.2,"x2":-8.5,"y2":16.5},{"x":14,"y":14.25,"x2":2.3,"y2":10.7},{"x":-40.8,"y":14.5,"x2":-30,"y2":8.27},{"x":29,"y":11.07,"x2":-12,"y2":6.23},{"x":54.1,"y":8.14,"x2":-7.6,"y2":4.7},{"x":2.3,"y":1.27,"x2":-8.5,"y2":3.94}]},
  "mark":{"type":"rule","color":"black","strokeWidth":1.2},
  "encoding":{"x":{"field":"x","type":"quantitative","scale":{"domain":[-100,100],"nice":false,"zero":false}},"y":{"field":"y","type":"quantitative","scale":{"domain":[0,18.25],"nice":false,"zero":false}},"x2":{"field":"x2"},"y2":{"field":"y2"}}},
 {"data":{"values":[{"t":"y = 0 m, z = 19 m","x":14.9,"y":17.38},{"t":"y = 0 m, z = 19 m","x":16.7,"y":14.58},{"t":"y = –20 m, z = 19 m","x":-101.1,"y":15.39},{"t":"y = –20 m, z = 19 m","x":30.2,"y":10.81},{"t":"y = 20 m, z = 19 m","x":55.4,"y":8.14},{"t":"y = 20 m, z = 19 m","x":3.8,"y":0.89}]},
  "mark":{"type":"text","fontSize":16,"font":"Liberation Sans","align":"left","baseline":"middle","color":"#111"},
  "encoding":{"x":{"field":"x","type":"quantitative","scale":{"domain":[-100,100],"nice":false,"zero":false}},"y":{"field":"y","type":"quantitative","scale":{"domain":[0,18.25],"nice":false,"zero":false}},"text":{"field":"t"}}},
 {"data":{"values":[{"t":"d )","x":215.5,"y":0.0}]},
  "mark":{"type":"text","fontSize":22,"font":"Liberation Serif","fontStyle":"italic","align":"center","baseline":"middle","color":"#111"},
  "encoding":{"x":{"field":"x","type":"quantitative","scale":{"domain":[-100,100],"nice":false,"zero":false}},"y":{"field":"y","type":"quantitative","scale":{"domain":[0,18.25],"nice":false,"zero":false}},"text":{"field":"t"}}}
]}
]
}
